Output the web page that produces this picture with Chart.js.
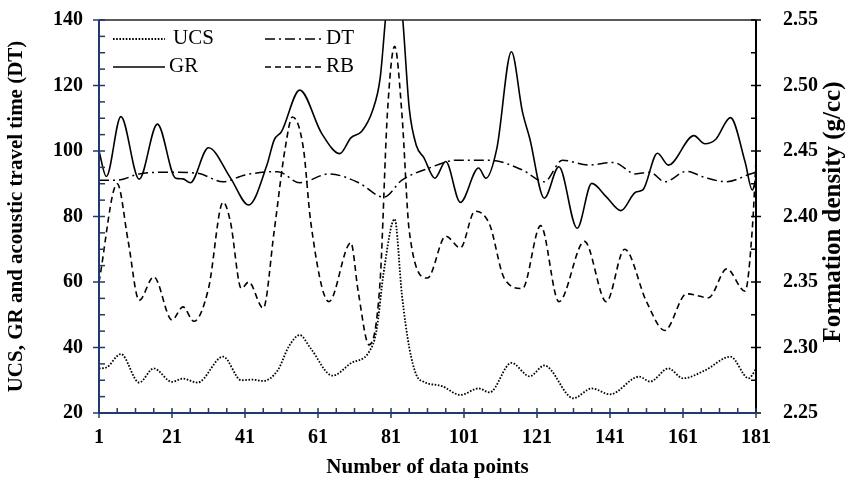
<!DOCTYPE html>
<html>
<head>
<meta charset="utf-8">
<title>UCS, GR, DT and RB along the section</title>
<script src="https://cdn.jsdelivr.net/npm/chart.js@4.4.1/dist/chart.umd.min.js"></script>
<style>
  html, body { margin: 0; padding: 0; background: #fff; }
  #wrap { width: 853px; height: 480px; }
</style>
</head>
<body>
<div id="wrap"><canvas id="chart" width="853" height="480"></canvas></div>
<script>
// ─── Axis ticks ─────────────────────────────────────────────────────────────

const xTicks  = [1, 21, 41, 61, 81, 101, 121, 141, 161, 181];
const yTicks  = [20, 40, 60, 80, 100, 120, 140];
const y2Ticks = [2.25, 2.30, 2.35, 2.40, 2.45, 2.50, 2.55];

// ─── Logs (x = data point number) ───────────────────────────────────────────

// UCS, MPa
const ucsX = [1, 3, 7, 12, 16, 21, 24, 28, 35, 40, 43, 46, 50, 53, 56, 59, 65, 70, 75, 77,
              79, 82, 84, 86, 88, 90, 95, 100, 105, 108, 114, 119, 123, 131, 136, 141, 149, 152, 157, 161,
              167, 174, 179, 181];
const ucsY = [33.6, 33.9, 38.0, 29.3, 33.6, 29.5, 30.5, 29.3, 37.2, 30.0, 30.2, 29.8, 33.1, 40.3, 43.8, 39.7, 31.4, 35.2, 38.7, 45,
              63, 79.2, 56, 40, 31.5, 29.5, 28.2, 25.5, 27.5, 26.3, 35.3, 31.2, 34.5, 24.5, 27.5, 25.7, 31.1, 29.6, 33.6, 30.6,
              33.0, 37.2, 30.6, 33.4];

// Gamma ray, API
const grX = [1, 3, 7, 12, 17, 22, 24, 26, 31, 37, 42, 47, 49, 51, 56, 62, 67, 70, 73, 76,
             78, 80, 82, 84, 86, 88, 90, 93, 96, 100, 105, 107, 110, 114, 117, 119, 123, 127, 132, 136,
             140, 144, 148, 150, 154, 157, 164, 167, 170, 174, 178, 180, 181];
const grY = [100, 92.2, 110.5, 91.4, 108.2, 91.7, 91.5, 90.3, 101, 91.8, 83.5, 95.7, 103.4, 105.9, 118.6, 105.4, 99.2, 104, 106, 112.5,
             122, 146, 156, 143, 113, 101.5, 98, 91.7, 96.8, 84.3, 94.8, 91.7, 100.8, 130.3, 112, 103.9, 85.6, 95.2, 76.4, 90.1,
             86, 81.8, 87.4, 88.1, 99.3, 95.7, 104.7, 102.2, 103.6, 110.2, 96.7, 88.1, 91.7];

// Sonic travel time, us/ft
const dtX = [1, 6, 12, 20, 28, 35, 41, 50, 56, 64, 72, 79, 84, 91, 99, 108, 117, 123, 128, 135,
             142, 148, 152, 156, 162, 167, 173, 179, 181];
const dtY = [91.1, 91.1, 93.0, 93.5, 93.2, 90.6, 92.7, 93.7, 90.3, 93.0, 90.4, 85.9, 91.1, 94.6, 97.2, 97.2, 94.2, 90.6, 97.2, 95.7,
             96.5, 93.0, 93.5, 90.6, 93.8, 91.9, 90.6, 92.8, 93.5];

// Bulk density, g/cc (right axis)
const rbX = [1, 6, 9, 12, 16, 21, 24, 27, 31, 35, 37, 40, 42, 46, 49, 52, 54, 57, 59, 64,
             70, 72, 75, 78, 80, 82, 84, 86, 91, 96, 100, 104, 108, 112, 117, 122, 127, 134, 140, 145,
             151, 156, 162, 168, 173, 178, 180, 181];
const rbY = [2.350, 2.425, 2.381, 2.336, 2.354, 2.321, 2.331, 2.320, 2.345, 2.411, 2.396, 2.345, 2.350, 2.330, 2.389, 2.452, 2.476, 2.452, 2.396, 2.335,
             2.380, 2.343, 2.302, 2.350, 2.478, 2.530, 2.478, 2.389, 2.353, 2.385, 2.376, 2.404, 2.394, 2.353, 2.345, 2.393, 2.335, 2.381, 2.335, 2.375,
             2.335, 2.313, 2.341, 2.338, 2.360, 2.343, 2.391, 2.443];

// ─── Styling ────────────────────────────────────────────────────────────────

const FONT = '"Liberation Serif", "Times New Roman", serif';
const AXIS_BLUE = '#1f3a6e';

const pts = (xs, ys) => xs.map((x, i) => ({ x, y: ys[i] }));

function seg(ctx, x1, y1, x2, y2) {
  ctx.beginPath();
  ctx.moveTo(x1, y1);
  ctx.lineTo(x2, y2);
  ctx.stroke();
}

// walks min..max in minor steps; every `every`-th one is a major tick
function eachTick(min, max, step, every, fn) {
  const n = Math.round((max - min) / step);
  for (let i = 0; i <= n; i++) fn(min + i * step, i % every === 0);
}

// keep end labels from pushing the plot area inwards
function noEdgePadding(s) {
  s.paddingTop = 0;
  s.paddingBottom = 0;
  s.paddingLeft = 0;
  s.paddingRight = 0;
}

// axis lines, frame, crossing/inside tick marks, x labels and the right-hand title
const frameAndTicks = {
  id: 'frameAndTicks',
  afterDatasetsDraw(chart) {
    const { ctx, chartArea: a, scales: { x, y, y2 } } = chart;
    ctx.save();
    ctx.setLineDash([]);

    // top edge
    ctx.strokeStyle = '#222';
    ctx.lineWidth = 1.5;
    seg(ctx, a.left, a.top, a.right, a.top);

    // right axis (density), black
    ctx.strokeStyle = '#000';
    ctx.lineWidth = 2;
    seg(ctx, a.right, a.top, a.right, a.bottom);
    ctx.lineWidth = 1.5;
    eachTick(2.25, 2.55, 0.025, 2, (v, major) => {
      const py = y2.getPixelForValue(v);
      seg(ctx, a.right - 5, py, major ? a.right + 5 : a.right, py);
    });

    // left axis and bottom axis, navy
    ctx.strokeStyle = AXIS_BLUE;
    ctx.lineWidth = 2;
    seg(ctx, a.left, a.top, a.left, a.bottom + 1);
    seg(ctx, a.left - 1, a.bottom, a.right, a.bottom);
    ctx.lineWidth = 1.5;
    eachTick(20, 140, 5, 4, (v, major) => {
      const py = y.getPixelForValue(v);
      seg(ctx, major ? a.left - 6 : a.left, py, a.left + 6, py);
    });
    eachTick(1, 181, 5, 4, (v, major) => {
      const px = x.getPixelForValue(v);
      seg(ctx, px, a.bottom - 5, px, major ? a.bottom + 5 : a.bottom);
    });

    // x tick labels
    ctx.fillStyle = '#000';
    ctx.font = `bold 20px ${FONT}`;
    ctx.textAlign = 'center';
    ctx.textBaseline = 'middle';
    xTicks.forEach((v) => ctx.fillText(String(v), x.getPixelForValue(v), a.bottom + 25));

    // right title reads bottom-to-top like the left one
    ctx.font = `bold 25px ${FONT}`;
    ctx.translate(834, 212);
    ctx.rotate(-Math.PI / 2);
    ctx.fillText('Formation density (g/cc)', 0, 0);
    ctx.restore();
  }
};

// two-column legend sitting inside the plot, top left
const legendSlots = [
  ['UCS', 113, 165, 38],
  ['DT',  265, 322, 38],
  ['GR',  113, 165, 66],
  ['RB',  265, 322, 66],
];

const insetLegend = {
  id: 'insetLegend',
  afterDraw(chart) {
    const { ctx } = chart;
    ctx.save();
    ctx.font = `21px ${FONT}`;
    ctx.textBaseline = 'middle';
    ctx.fillStyle = '#000';
    legendSlots.forEach(([label, x0, x1, ly]) => {
      const ds = chart.data.datasets.find((d) => d.label === label);
      ctx.strokeStyle = '#000';
      ctx.lineWidth = ds.borderWidth;
      ctx.setLineDash(ds.borderDash || []);
      seg(ctx, x0, ly + 1, x1, ly + 1);
      ctx.setLineDash([]);
      ctx.fillText(label, x1 + (label.length > 2 ? 8 : 4), ly);
    });
    ctx.restore();
  }
};

const tickFont  = { family: FONT, size: 20, weight: 'bold' };
const titleFont = { family: FONT, size: 21, weight: 'bold' };

// ─── Chart ──────────────────────────────────────────────────────────────────

new Chart(document.getElementById('chart'), {
  type: 'line',
  data: {
    datasets: [
      { label: 'UCS', data: pts(ucsX, ucsY), yAxisID: 'y',  borderWidth: 1.8, borderDash: [1.6, 1.6] },
      { label: 'DT',  data: pts(dtX, dtY),   yAxisID: 'y',  borderWidth: 1.5, borderDash: [10, 4, 2, 4] },
      { label: 'GR',  data: pts(grX, grY),   yAxisID: 'y',  borderWidth: 1.6 },
      { label: 'RB',  data: pts(rbX, rbY),   yAxisID: 'y2', borderWidth: 1.6, borderDash: [6, 4] },
    ],
  },
  options: {
    responsive: false,
    animation: false,
    layout: { padding: { top: 20, right: 0, bottom: 0, left: 0 } },
    elements: {
      point: { radius: 0 },
      line: { borderColor: '#000', fill: false, cubicInterpolationMode: 'monotone' },
    },
    plugins: { legend: { display: false }, tooltip: { enabled: false } },
    scales: {
      x: {
        type: 'linear',
        min: 1,
        max: 181,
        afterBuildTicks: (s) => { s.ticks = xTicks.map((value) => ({ value })); },
        afterFit: (s) => { s.height = 67; noEdgePadding(s); },
        grid: { display: false },
        border: { display: false },
        ticks: { display: false },
        title: {
          display: true,
          text: 'Number of data points',
          color: '#000',
          font: titleFont,
          padding: { top: 0, bottom: 0 },
        },
      },
      y: {
        position: 'left',
        min: 20,
        max: 140,
        afterBuildTicks: (s) => { s.ticks = yTicks.map((value) => ({ value })); },
        afterFit: (s) => { s.width = 99; noEdgePadding(s); },
        grid: { display: false },
        border: { display: false },
        ticks: { color: '#000', font: tickFont, padding: 8 },
        title: {
          display: true,
          text: 'UCS, GR and acoustic travel time (DT)',
          color: '#000',
          font: titleFont,
          padding: { top: 4, bottom: 0 },
        },
      },
      y2: {
        position: 'right',
        min: 2.25,
        max: 2.55,
        afterBuildTicks: (s) => { s.ticks = y2Ticks.map((value) => ({ value })); },
        afterFit: (s) => { s.width = 97; noEdgePadding(s); },
        grid: { display: false },
        border: { display: false },
        ticks: { color: '#000', font: tickFont, padding: 19, callback: (v) => v.toFixed(2) },
      },
    },
  },
  plugins: [frameAndTicks, insetLegend],
});
</script>
</body>
</html>
